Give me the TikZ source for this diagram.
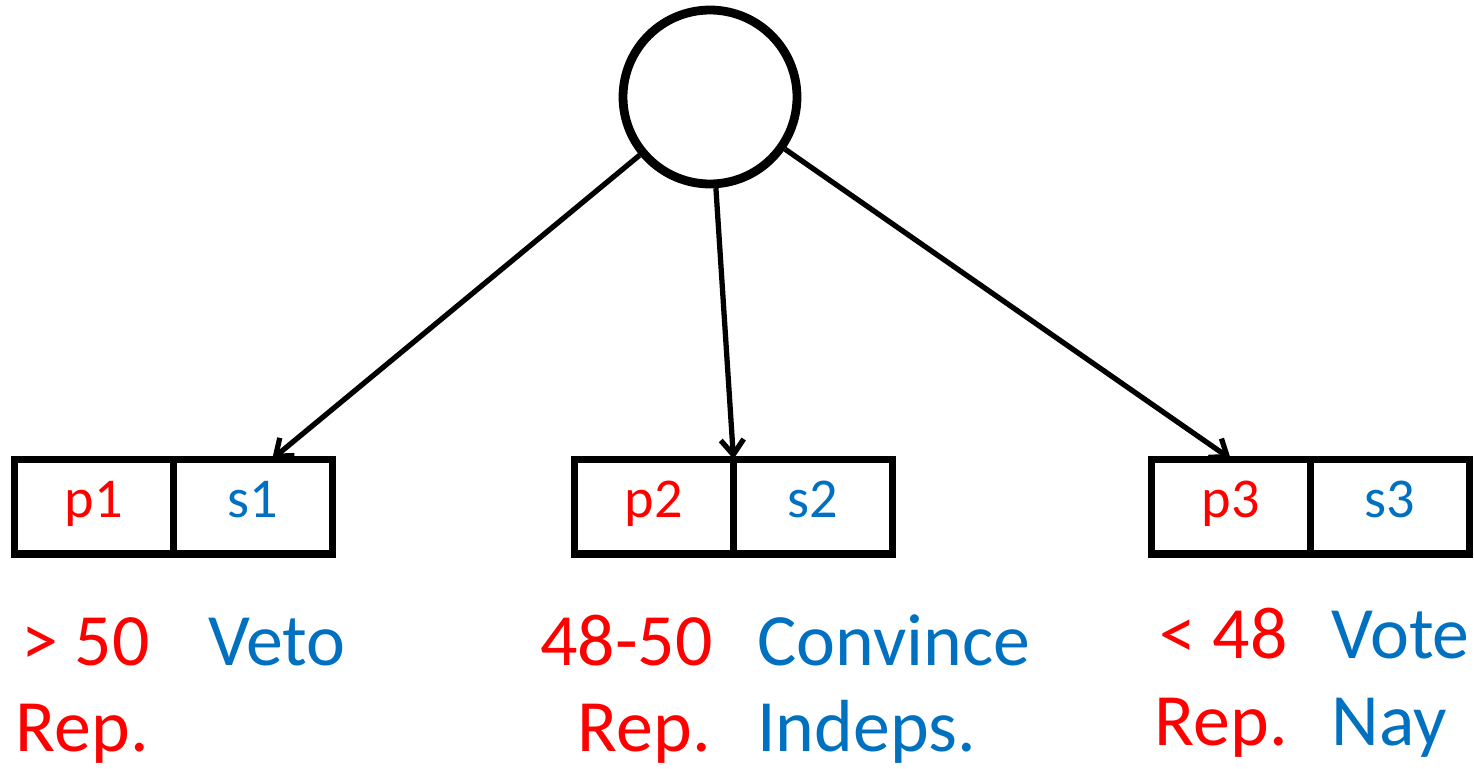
\documentclass[tikz,border=0pt]{standalone}
\usepackage{fontspec}
\setmainfont{Carlito}
\usepackage{tikz}
\usetikzlibrary{arrows.meta, positioning, calc}
\definecolor{repred}{rgb}{1,0,0}
\definecolor{indblue}{rgb}{0,.439,.753}

\tikzset{
  cell/.style={draw, line width=4pt, rectangle, minimum width=3.19cm, minimum height=1.9cm,
               inner sep=0pt, outer sep=0pt, text height=0.8cm, text depth=0.38cm,
               font=\fontsize{32}{38}\selectfont},
  big/.style={inner sep=0pt, font=\fontsize{42}{50}\selectfont}
}

\begin{document}
\begin{tikzpicture}[x=0.02cm, y=-0.02cm, >={Straight Barb[length=3mm,width=4.6mm]}]
\useasboundingbox (0,0) rectangle (1474,768);
\node[draw, circle, line width=5pt, minimum size=3.48cm] (root) at (710,97) {};
\foreach \i/\x in {1/14, 2/574, 3/1151}
{
    \node[cell, text=repred] (p\i) at (\x+79.75,506.5) {p\i};
    \node[cell, text=indblue, right=0pt of p\i] (s\i) {s\i};
}
\draw[line width=3pt, ->] (root) -- ([xshift=0.38cm]s1.north);
\draw[line width=3pt, ->] (root) -- (p2.north east);
\draw[line width=3pt, ->] (root) -- (p3.north);
% choices below the boxes
\node[big, text=repred, anchor=base east] (r1a) at (150,665) {> 50};
\node[big, text=repred, anchor=base east] (r1b) at (149,751) {Rep.};
\node[big, text=indblue, anchor=base west] (b1a) at (208,665) {Veto};
\node[big, text=repred, anchor=base east] (r2a) at (713,665) {48-50};
\node[big, text=repred, anchor=base east] (r2b) at (711,751) {Rep.};
\node[big, text=indblue, anchor=base west] (b2a) at (757,665) {Convince};
\node[big, text=indblue, anchor=base west] (b2b) at (757,751) {Indeps.};
\node[big, text=repred, anchor=base east] (r3a) at (1288,658) {< 48};
\node[big, text=repred, anchor=base east] (r3b) at (1288,745) {Rep.};
\node[big, text=indblue, anchor=base west] (b3a) at (1331,658) {Vote};
\node[big, text=indblue, anchor=base west] (b3b) at (1331,745) {Nay};
\end{tikzpicture}
\end{document}
